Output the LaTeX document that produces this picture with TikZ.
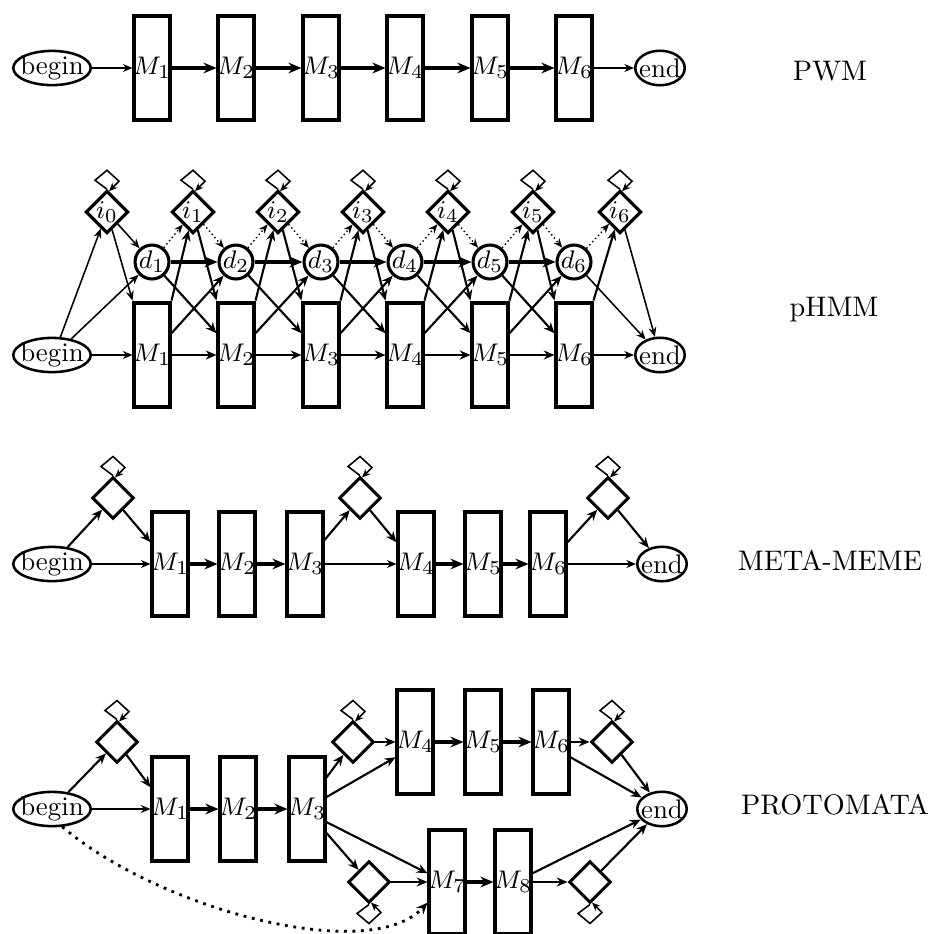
\documentclass[tikz,border=0pt]{standalone}
\usetikzlibrary{shapes.geometric,arrows.meta,calc}
\newcommand{\mm}[1]{\makebox[0pt]{$M_{#1}$}}
\newcommand{\wrd}[1]{\makebox[0pt]{#1}}
\tikzset{
 mbox/.style={draw, line width=1.4pt, minimum width=12.4pt, minimum height=37.1pt, inner sep=0pt},
 ins/.style={diamond, draw, line width=1.1pt, minimum width=14.8pt, minimum height=14.8pt, inner sep=0pt},
 del/.style={circle, draw, line width=1.1pt, minimum size=10.6pt, inner sep=0pt},
 beg/.style={ellipse, draw, line width=0.9pt, minimum width=27.4pt, minimum height=12pt, inner sep=0pt},
 fin/.style={ellipse, draw, line width=0.9pt, minimum width=17.5pt, minimum height=12.2pt, inner sep=0pt},
 lab/.style={anchor=base, font=\fontsize{10}{12}\selectfont},
 ar/.style={line width=0.55pt, -{Stealth[length=3.4pt,width=2.8pt]}},
 arm/.style={line width=0.75pt, -{Stealth[length=3.8pt,width=3.2pt]}},
 ark/.style={line width=1.2pt, -{Stealth[length=4.6pt,width=3.8pt]}},
 ard/.style={line width=0.5pt, densely dotted, -{Stealth[length=3.2pt,width=2.6pt]}},
 loopline/.style={line width=0.55pt, -{Stealth[length=3pt,width=2.5pt]}},
 dotline/.style={line width=1pt, dash pattern=on 1pt off 2pt, -{Stealth[length=4pt,width=3.4pt]}},
}
\begin{document}
\begin{tikzpicture}[x=0.35365pt,y=-0.35365pt, every node/.style={font=\fontsize{9.5}{11}\selectfont}]
\useasboundingbox (0,0) rectangle (938,934);

% ---------------- PWM ----------------
\node[beg] (wb) at (52,68) {\wrd{begin}};
\foreach \k/\x in {1/152,2/236,3/321,4/405,5/490,6/574}
  \node[mbox] (wM\k) at (\x,68) {\mm{\k}};
\node[fin] (we) at (660,68) {\wrd{end}};
\draw[ar] (wb) -- (wM1);
\foreach \k in {1,...,5} {
  \pgfmathtruncatemacro{\n}{\k+1}
  \draw[ark] (wM\k) -- (wM\n);
}
\draw[ar] (wM6) -- (we);
\node[lab] (lw) at (830,80) {PWM};

% ---------------- pHMM ----------------
\node[beg] (hb) at (52,355) {\wrd{begin}};
\node[fin] (he) at (660,355) {\wrd{end}};
\foreach \k/\x in {1/152,2/236,3/321,4/405,5/490,6/574} {
  \node[mbox] (hM\k) at (\x,355) {\mm{\k}};
  \node[del] (hd\k) at (\x,262) {$d_{\k}$};
}
\foreach \k/\x in {0/107,1/193,2/278,3/363,4/448,5/533,6/620} {
  \node[ins] (hi\k) at (\x,212) {$i_{\k}$};
  \draw[loopline] (hi\k.north) -- ++(-12,-9) -- ++(12,-10) -- ++(12,11) -- ++(-10,10);
}
\draw[ar] (hb.65) -- (hi0);
\draw[ar] (hb.40) -- (hd1);
\draw[ar] (hb) -- (hM1);
\draw[ar] (hi0) -- (hd1);
\draw[ar] (hi0) -- (hM1.north west);
\foreach \k in {1,...,5} {
  \pgfmathtruncatemacro{\n}{\k+1}
  \draw[ark] (hd\k) -- (hd\n);
  \draw[arm] (hM\k) -- (hM\n);
  \draw[arm] ($(hM\k.north east)!0.3!(hM\k.south east)$) -- (hd\n);
  \draw[arm] (hd\k) -- ($(hM\n.north west)!0.3!(hM\n.south west)$);
  \draw[arm] (hM\k.north east) -- (hi\k);
  \draw[arm] (hi\k) -- (hM\n.north west);
  \draw[ard] (hd\k) -- (hi\k);
  \draw[ard] (hi\k) -- (hd\n);
}
\draw[ard] (hd6) -- (hi6);
\draw[arm] (hM6.north east) -- (hi6);
\draw[ar] (hi6) -- (he);
\draw[ar] (hd6) -- (he);
\draw[ar] (hM6) -- (he);
\node[lab] (lh) at (834,316) {pHMM};

% ---------------- META-MEME ----------------
\node[beg] (mb) at (52,564) {\wrd{begin}};
\node[ins] (mD1) at (113,498) {};
\node[mbox] (mM1) at (170,564) {\mm{1}};
\node[mbox] (mM2) at (237,564) {\mm{2}};
\node[mbox] (mM3) at (305,564) {\mm{3}};
\node[ins] (mD2) at (360,498) {};
\node[mbox] (mM4) at (416,564) {\mm{4}};
\node[mbox] (mM5) at (483,564) {\mm{5}};
\node[mbox] (mM6) at (548,564) {\mm{6}};
\node[ins] (mD3) at (608,498) {};
\node[fin] (me) at (662,564) {\wrd{end}};
\foreach \d in {mD1,mD2,mD3}
  \draw[loopline] (\d.north) -- ++(-12,-9) -- ++(12,-10) -- ++(12,11) -- ++(-10,10);
\draw[arm] (mb) -- (mD1);
\draw[arm] (mD1) -- ($(mM1.north west)!0.3!(mM1.south west)$);
\draw[ar] (mb) -- (mM1);
\draw[ark] (mM1) -- (mM2);
\draw[ark] (mM2) -- (mM3);
\draw[arm] ($(mM3.north east)!0.28!(mM3.south east)$) -- (mD2);
\draw[arm] (mD2) -- ($(mM4.north west)!0.3!(mM4.south west)$);
\draw[ar] (mM3) -- (mM4);
\draw[ark] (mM4) -- (mM5);
\draw[ark] (mM5) -- (mM6);
\draw[arm] ($(mM6.north east)!0.3!(mM6.south east)$) -- (mD3);
\draw[arm] (mD3) -- (me);
\draw[ar] (mM6) -- (me);
\node[lab] (lm) at (830,570) {META-MEME};

% ---------------- PROTOMATA ----------------
\node[beg] (pb) at (52,809) {\wrd{begin}};
\node[ins] (pD1) at (117,742) {};
\node[mbox] (pM1) at (170,809) {\mm{1}};
\node[mbox] (pM2) at (238,809) {\mm{2}};
\node[mbox] (pM3) at (307,809) {\mm{3}};
\node[ins] (pD2) at (353,742) {};
\node[mbox] (pM4) at (415,742) {\mm{4}};
\node[mbox] (pM5) at (483,742) {\mm{5}};
\node[mbox] (pM6) at (551,742) {\mm{6}};
\node[ins] (pD3) at (612,742) {};
\node[fin] (pe) at (662,809) {\wrd{end}};
\node[ins] (pD4) at (369,882) {};
\node[mbox] (pM7) at (447,882) {\mm{7}};
\node[mbox] (pM8) at (513,882) {\mm{8}};
\node[ins] (pD5) at (590,882) {};
\foreach \d in {pD1,pD2,pD3}
  \draw[loopline] (\d.north) -- ++(-12,-9) -- ++(12,-10) -- ++(12,11) -- ++(-10,10);
\foreach \d in {pD4,pD5}
  \draw[loopline] (\d.south) -- ++(-12,9) -- ++(12,10) -- ++(12,-11) -- ++(-10,-10);
\draw[arm] (pb) -- (pD1);
\draw[arm] (pD1) -- ($(pM1.north west)!0.3!(pM1.south west)$);
\draw[ar] (pb) -- (pM1);
\draw[ark] (pM1) -- (pM2);
\draw[ark] (pM2) -- (pM3);
\draw[arm] ($(pM3.north east)!0.21!(pM3.south east)$) -- (pD2);
\draw[arm] (pD2) -- (pM4);
\draw[arm] ($(pM3.north east)!0.39!(pM3.south east)$) -- ($(pM4.north west)!0.64!(pM4.south west)$);
\draw[ark] (pM4) -- (pM5);
\draw[ark] (pM5) -- (pM6);
\draw[arm] (pM6) -- (pD3);
\draw[arm] (pD3) -- (pe);
\draw[arm] ($(pM6.north east)!0.64!(pM6.south east)$) -- (pe);
\draw[arm] ($(pM3.north east)!0.62!(pM3.south east)$) -- ($(pM7.north west)!0.42!(pM7.south west)$);
\draw[arm] ($(pM3.north east)!0.72!(pM3.south east)$) -- (pD4);
\draw[arm] (pD4) -- (pM7);
\draw[ark] (pM7) -- (pM8);
\draw[arm] ($(pM8.north east)!0.42!(pM8.south east)$) -- (pe);
\draw[arm] (pM8) -- (pD5);
\draw[arm] (pD5) -- (pe);
\draw[dotline] (pb.-60) .. controls (160,910) and (370,965) .. ($(pM7.north west)!0.69!(pM7.south west)$);
\node[lab] (lp) at (835,814) {PROTOMATA};
\end{tikzpicture}
\end{document}
